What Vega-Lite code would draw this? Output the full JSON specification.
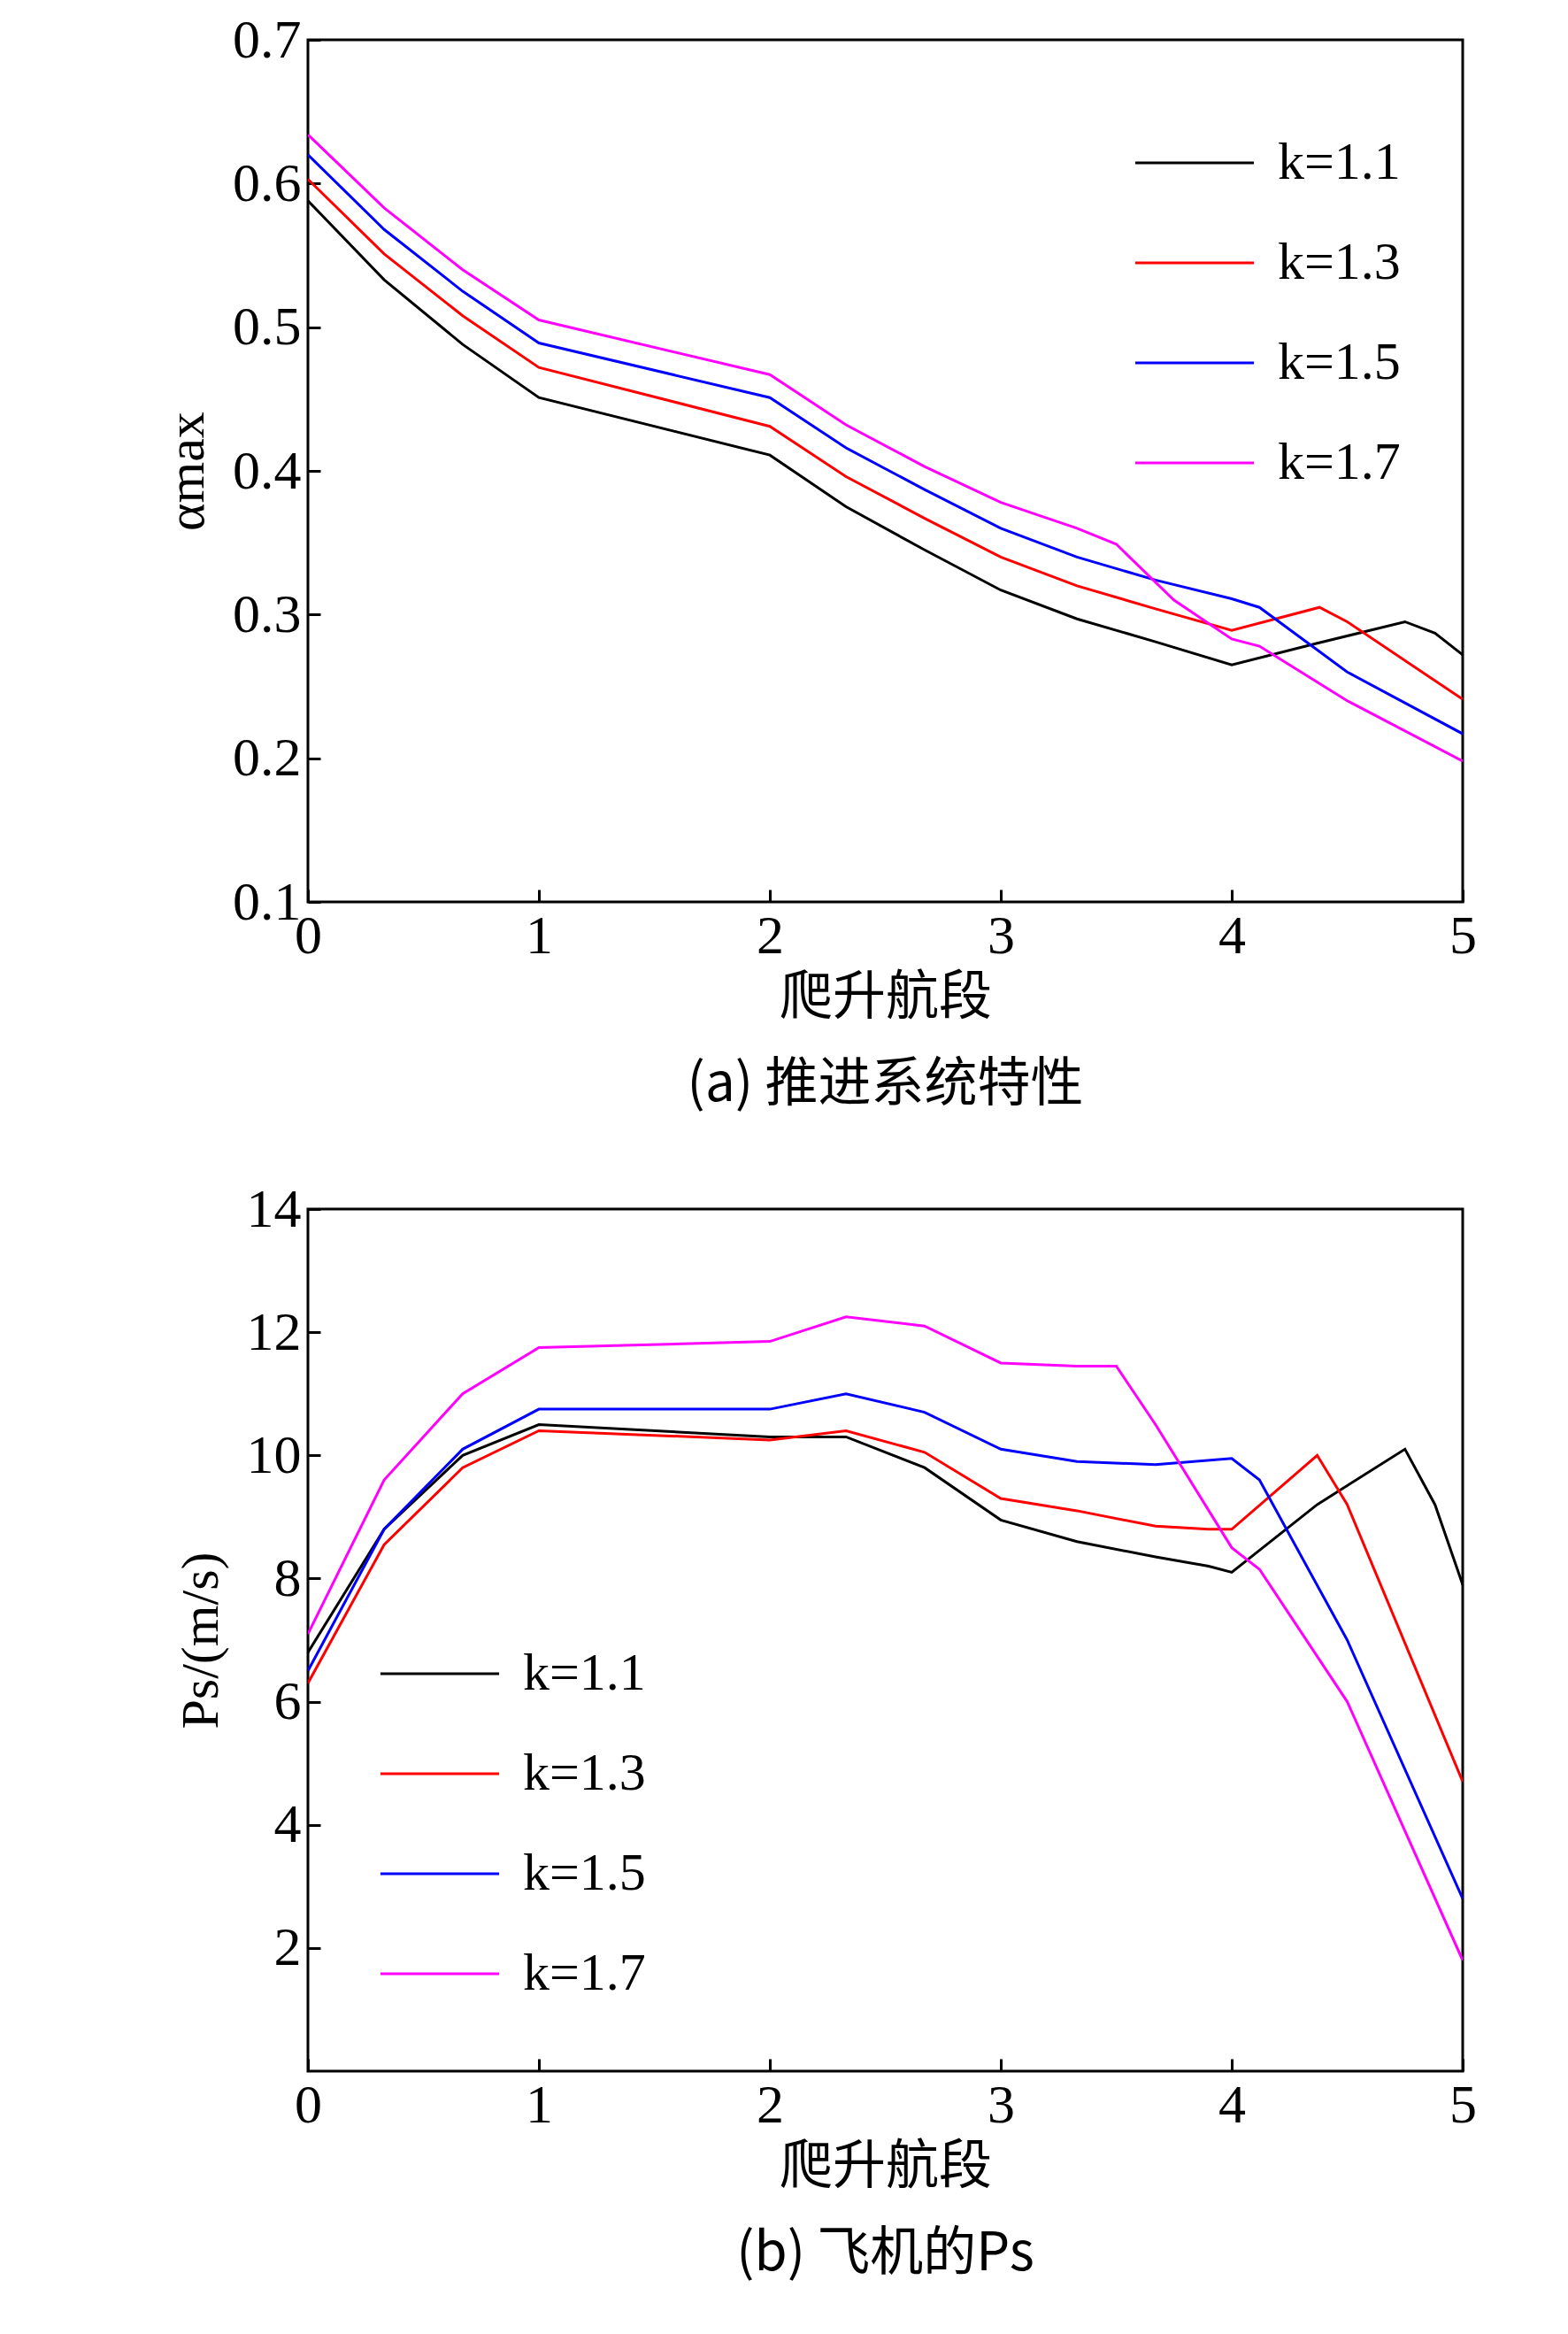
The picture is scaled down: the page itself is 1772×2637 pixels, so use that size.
{
  "$schema": "https://vega.github.io/schema/vega-lite/v6.json",
  "background": "white",
  "padding": {"left": 180, "top": 12, "right": 60, "bottom": 20},
  "spacing": 75,
  "config": {
    "font": "Liberation Serif",
    "view": {"stroke": "black", "strokeWidth": 3},
    "axis": {
      "grid": false, "domain": false, "ticks": true, "tickColor": "black", "tickWidth": 3,
      "tickSize": -14, "labelFontSize": 62, "labelColor": "black", "labelPadding": 22, "labelFlush": false,
      "titleFontSize": 60, "titleColor": "black", "titleFontWeight": "normal"
    },
    "legend": {
      "labelFontSize": 60, "labelColor": "black", "symbolType": "stroke", "symbolSize": 18000,
      "symbolStrokeWidth": 3, "title": null, "rowPadding": 14, "labelOffset": 25
    },
    "title": {"fontSize": 60, "fontWeight": "normal", "color": "black", "orient": "bottom", "offset": 40, "font": "Noto Sans CJK SC"}
  },
  "datasets": {
    "a": [
      {"k":"k=1.1","x":0,"y":0.588},{"k":"k=1.1","x":0.33,"y":0.533},{"k":"k=1.1","x":0.67,"y":0.488},{"k":"k=1.1","x":1,"y":0.451},{"k":"k=1.1","x":2,"y":0.411},{"k":"k=1.1","x":2.33,"y":0.375},{"k":"k=1.1","x":2.67,"y":0.345},{"k":"k=1.1","x":3,"y":0.317},{"k":"k=1.1","x":3.33,"y":0.297},{"k":"k=1.1","x":3.67,"y":0.281},{"k":"k=1.1","x":4,"y":0.265},{"k":"k=1.1","x":4.37,"y":0.28},{"k":"k=1.1","x":4.75,"y":0.295},{"k":"k=1.1","x":4.88,"y":0.287},{"k":"k=1.1","x":5,"y":0.272},
      {"k":"k=1.3","x":0,"y":0.603},{"k":"k=1.3","x":0.33,"y":0.551},{"k":"k=1.3","x":0.67,"y":0.508},{"k":"k=1.3","x":1,"y":0.472},{"k":"k=1.3","x":2,"y":0.431},{"k":"k=1.3","x":2.33,"y":0.396},{"k":"k=1.3","x":2.67,"y":0.367},{"k":"k=1.3","x":3,"y":0.34},{"k":"k=1.3","x":3.33,"y":0.32},{"k":"k=1.3","x":3.67,"y":0.304},{"k":"k=1.3","x":4,"y":0.289},{"k":"k=1.3","x":4.38,"y":0.305},{"k":"k=1.3","x":4.5,"y":0.295},{"k":"k=1.3","x":5,"y":0.241},
      {"k":"k=1.5","x":0,"y":0.62},{"k":"k=1.5","x":0.33,"y":0.568},{"k":"k=1.5","x":0.67,"y":0.525},{"k":"k=1.5","x":1,"y":0.489},{"k":"k=1.5","x":2,"y":0.451},{"k":"k=1.5","x":2.33,"y":0.416},{"k":"k=1.5","x":2.67,"y":0.387},{"k":"k=1.5","x":3,"y":0.36},{"k":"k=1.5","x":3.33,"y":0.34},{"k":"k=1.5","x":3.67,"y":0.324},{"k":"k=1.5","x":4,"y":0.311},{"k":"k=1.5","x":4.12,"y":0.305},{"k":"k=1.5","x":4.5,"y":0.26},{"k":"k=1.5","x":5,"y":0.217},
      {"k":"k=1.7","x":0,"y":0.634},{"k":"k=1.7","x":0.33,"y":0.583},{"k":"k=1.7","x":0.67,"y":0.54},{"k":"k=1.7","x":1,"y":0.505},{"k":"k=1.7","x":2,"y":0.467},{"k":"k=1.7","x":2.33,"y":0.432},{"k":"k=1.7","x":2.67,"y":0.403},{"k":"k=1.7","x":3,"y":0.378},{"k":"k=1.7","x":3.33,"y":0.36},{"k":"k=1.7","x":3.5,"y":0.349},{"k":"k=1.7","x":3.75,"y":0.31},{"k":"k=1.7","x":4,"y":0.283},{"k":"k=1.7","x":4.12,"y":0.278},{"k":"k=1.7","x":4.5,"y":0.24},{"k":"k=1.7","x":5,"y":0.198}
    ],
    "b": [
      {"k":"k=1.1","x":0,"y":6.8},{"k":"k=1.1","x":0.33,"y":8.8},{"k":"k=1.1","x":0.67,"y":10.0},{"k":"k=1.1","x":1,"y":10.5},{"k":"k=1.1","x":2,"y":10.3},{"k":"k=1.1","x":2.33,"y":10.3},{"k":"k=1.1","x":2.67,"y":9.8},{"k":"k=1.1","x":3,"y":8.95},{"k":"k=1.1","x":3.33,"y":8.6},{"k":"k=1.1","x":3.67,"y":8.35},{"k":"k=1.1","x":3.9,"y":8.2},{"k":"k=1.1","x":4,"y":8.1},{"k":"k=1.1","x":4.37,"y":9.2},{"k":"k=1.1","x":4.75,"y":10.1},{"k":"k=1.1","x":4.88,"y":9.2},{"k":"k=1.1","x":5,"y":7.9},
      {"k":"k=1.3","x":0,"y":6.3},{"k":"k=1.3","x":0.33,"y":8.55},{"k":"k=1.3","x":0.67,"y":9.8},{"k":"k=1.3","x":1,"y":10.4},{"k":"k=1.3","x":2,"y":10.25},{"k":"k=1.3","x":2.33,"y":10.4},{"k":"k=1.3","x":2.67,"y":10.05},{"k":"k=1.3","x":3,"y":9.3},{"k":"k=1.3","x":3.33,"y":9.1},{"k":"k=1.3","x":3.67,"y":8.85},{"k":"k=1.3","x":3.9,"y":8.8},{"k":"k=1.3","x":4,"y":8.8},{"k":"k=1.3","x":4.37,"y":10.0},{"k":"k=1.3","x":4.5,"y":9.2},{"k":"k=1.3","x":5,"y":4.7},
      {"k":"k=1.5","x":0,"y":6.5},{"k":"k=1.5","x":0.33,"y":8.8},{"k":"k=1.5","x":0.67,"y":10.1},{"k":"k=1.5","x":1,"y":10.75},{"k":"k=1.5","x":2,"y":10.75},{"k":"k=1.5","x":2.33,"y":11.0},{"k":"k=1.5","x":2.67,"y":10.7},{"k":"k=1.5","x":3,"y":10.1},{"k":"k=1.5","x":3.33,"y":9.9},{"k":"k=1.5","x":3.67,"y":9.85},{"k":"k=1.5","x":4,"y":9.95},{"k":"k=1.5","x":4.12,"y":9.6},{"k":"k=1.5","x":4.5,"y":7.0},{"k":"k=1.5","x":5,"y":2.8},
      {"k":"k=1.7","x":0,"y":7.1},{"k":"k=1.7","x":0.33,"y":9.6},{"k":"k=1.7","x":0.67,"y":11.0},{"k":"k=1.7","x":1,"y":11.75},{"k":"k=1.7","x":2,"y":11.85},{"k":"k=1.7","x":2.33,"y":12.25},{"k":"k=1.7","x":2.67,"y":12.1},{"k":"k=1.7","x":3,"y":11.5},{"k":"k=1.7","x":3.33,"y":11.45},{"k":"k=1.7","x":3.5,"y":11.45},{"k":"k=1.7","x":3.67,"y":10.5},{"k":"k=1.7","x":4,"y":8.5},{"k":"k=1.7","x":4.12,"y":8.15},{"k":"k=1.7","x":4.5,"y":6.0},{"k":"k=1.7","x":5,"y":1.8}
    ]
  },
  "vconcat": [
    {
      "width": 1305, "height": 974,
      "title": {"text": "(a) 推进系统特性"},
      "data": {"name": "a"},
      "mark": {"type": "line", "strokeWidth": 3, "clip": true},
      "encoding": {
        "x": {"field": "x", "type": "quantitative", "scale": {"domain": [0, 5], "nice": false},
          "axis": {"title": "爬升航段", "titleFont": "Noto Sans CJK SC", "values": [0,1,2,3,4,5], "titlePadding": 10}},
        "y": {"field": "y", "type": "quantitative", "scale": {"domain": [0.1, 0.7], "nice": false, "zero": false},
          "axis": {"title": "αmax", "values": [0.1,0.2,0.3,0.4,0.5,0.6,0.7], "format": ".1f", "titlePadding": 20}},
        "color": {"field": "k", "type": "nominal",
          "scale": {"domain": ["k=1.1","k=1.3","k=1.5","k=1.7"], "range": ["#000000","#ff0000","#0000ff","#ff00ff"]},
          "legend": {"orient": "top-right", "offset": 70}}
      }
    },
    {
      "width": 1305, "height": 974,
      "title": {"text": "(b) 飞机的Ps"},
      "data": {"name": "b"},
      "mark": {"type": "line", "strokeWidth": 3, "clip": true},
      "encoding": {
        "x": {"field": "x", "type": "quantitative", "scale": {"domain": [0, 5], "nice": false},
          "axis": {"title": "爬升航段", "titleFont": "Noto Sans CJK SC", "values": [0,1,2,3,4,5], "titlePadding": 10}},
        "y": {"field": "y", "type": "quantitative", "scale": {"domain": [0, 14], "nice": false},
          "axis": {"title": "Ps/(m/s)", "values": [2,4,6,8,10,12,14], "titlePadding": 20}},
        "color": {"field": "k", "type": "nominal",
          "scale": {"domain": ["k=1.1","k=1.3","k=1.5","k=1.7"], "range": ["#000000","#ff0000","#0000ff","#ff00ff"]},
          "legend": {"orient": "bottom-left", "offset": 80}}
      }
    }
  ],
  "resolve": {"scale": {"y": "independent"}, "legend": {"color": "independent"}}
}
